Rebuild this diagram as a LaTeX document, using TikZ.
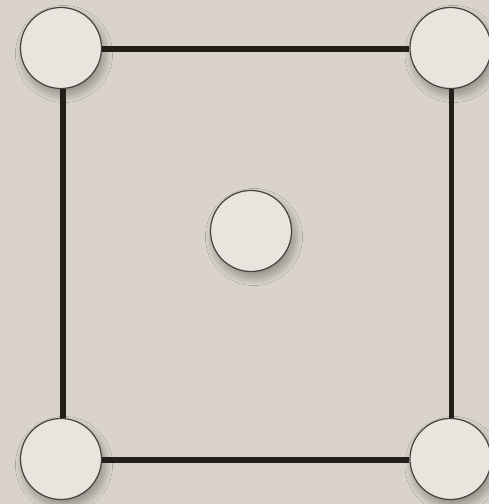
\documentclass[tikz,border=0pt]{standalone}
\usetikzlibrary{shadows.blur}
\definecolor{bgc}{RGB}{217,211,201}
\definecolor{fillc}{RGB}{232,228,222}
\definecolor{edgec}{RGB}{36,30,27}
\definecolor{rimc}{RGB}{72,66,62}
\begin{document}
\begin{tikzpicture}[x=1pt,y=-1pt,
  vert/.style={circle, minimum size=81pt, inner sep=0pt, fill=fillc, draw=rimc, line width=1.2pt,
    blur shadow={shadow xshift=3pt, shadow yshift=-6pt, shadow blur radius=8pt, shadow opacity=35, shadow blur steps=30, shadow blur extra rounding=0pt}},
  edge/.style={draw=edgec, line width=5.5pt}]
\fill[bgc] (0,0) rectangle (489,504);
\useasboundingbox (0,0) rectangle (489,504);
\node[vert] (tl) at (61,48) {};
\node[vert] (tr) at (450.5,48) {};
\node[vert] (bl) at (61,459) {};
\node[vert] (br) at (450.5,459) {};
\node[vert] (c) at (251,231) {};
\draw[edge] ([yshift=-1pt]tl.east) -- ([yshift=-1pt]tr.west);
\draw[edge] ([yshift=-1pt]bl.east) -- ([yshift=-1pt]br.west);
\draw[edge] ([xshift=2pt]tl.south) -- ([xshift=2pt]bl.north);
\draw[edge] ([xshift=1pt]tr.south) -- ([xshift=1pt]br.north);
\end{tikzpicture}
\end{document}
